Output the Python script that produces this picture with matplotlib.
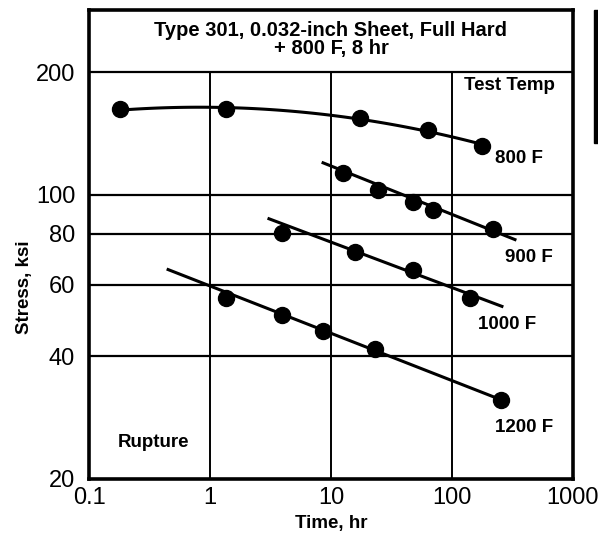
import numpy as np
import matplotlib
matplotlib.use("Agg")
import matplotlib.pyplot as plt
from matplotlib.patches import Rectangle

plt.rcParams['font.family'] = ['Liberation Sans', 'DejaVu Sans']

# rupture data, time (hr) vs stress (ksi)
t800 = [0.18, 1.36, 17.4, 63.5, 177]
s800 = [162, 162, 154, 144, 132]

t900 = [12.6, 24.4, 47.6, 69.7, 218]
s900 = [113, 102.8, 96.0, 91.8, 82.5]
fit900_t = [8.6, 332]
fit900_s = [119.7, 77.5]

t1000 = [3.94, 15.8, 47.6, 141]
s1000 = [80.6, 72.4, 65.4, 55.8]
fit1000_t = [3.07, 259]
fit1000_s = [87.2, 53.1]

t1200 = [1.36, 3.94, 8.59, 23.1, 254]
s1200 = [55.8, 50.7, 46.3, 41.7, 31.3]
fit1200_t = [0.45, 254]
fit1200_s = [65.4, 31.3]

xticks = [0.1, 1, 10, 100, 1000]
xlabels = ["0.1", "1", "10", "100", "1000"]
yticks = [20, 40, 60, 80, 100, 200]

fs_lab = 13.5

fig = plt.figure(figsize=(5.98, 5.38), dpi=100)
ax = fig.add_axes([0.149, 0.110, 0.809, 0.871])
ax.set_xscale('log')
ax.set_yscale('log')
ax.set_xlim(0.1, 1000)
ax.set_ylim(20, 284)

# grid stops at the title band (200 ksi line)
for xv in xticks[1:-1]:
    ax.plot([xv, xv], [20, 200], color='black', lw=1.4, zorder=1)
for yv in yticks[1:]:
    ax.plot([0.1, 1000], [yv, yv], color='black', lw=1.6, zorder=1)

# 800 F: smooth curve through points
lt = np.log10(t800)
c = np.polyfit(lt, np.log10(s800), 2)
xx = np.linspace(lt[0], lt[-1], 100)
ax.plot(10**xx, 10**np.polyval(c, xx), color='black', lw=2.2, zorder=2)
ax.plot(t800, s800, 'o', color='black', ms=11.5, zorder=3)

for ft, fs, t, s in [(fit900_t, fit900_s, t900, s900),
                     (fit1000_t, fit1000_s, t1000, s1000),
                     (fit1200_t, fit1200_s, t1200, s1200)]:
    ax.plot(ft, fs, color='black', lw=2.2, zorder=2)
    ax.plot(t, s, 'o', color='black', ms=11.5, zorder=3)

ax.set_xticks(xticks)
ax.set_xticklabels(xlabels)
ax.set_yticks(yticks)
ax.set_yticklabels([str(v) for v in yticks])
ax.minorticks_off()
ax.tick_params(axis='x', length=0, labelsize=17, pad=6)
ax.tick_params(axis='y', length=0, labelsize=17, pad=10)

for sp in ax.spines.values():
    sp.set_linewidth(2.6)

ax.set_xlabel("Time, hr", fontsize=fs_lab, fontweight='bold', labelpad=4)
ax.set_ylabel("Stress, ksi", fontsize=fs_lab, fontweight='bold')
ax.yaxis.set_label_coords(-0.115, 0.41)

ax.text(0.5, 0.976, "Type 301, 0.032-inch Sheet, Full Hard\n+ 800 F, 8 hr",
        transform=ax.transAxes, ha='center', va='top', fontsize=14.5,
        fontweight='bold', linespacing=0.88)

ax.text(301, 185.6, "Test Temp", ha='center', va='center', fontsize=fs_lab, fontweight='bold')
ax.text(226, 123, "800 F", ha='left', va='center', fontsize=fs_lab, fontweight='bold')
ax.text(274, 70.2, "900 F", ha='left', va='center', fontsize=fs_lab, fontweight='bold')
ax.text(164, 48.0, "1000 F", ha='left', va='center', fontsize=fs_lab, fontweight='bold')
ax.text(226, 26.7, "1200 F", ha='left', va='center', fontsize=fs_lab, fontweight='bold')
ax.text(0.174, 24.5, "Rupture", ha='left', va='center', fontsize=fs_lab, fontweight='bold')

# scan artefact bar at right edge
fig.patches.append(Rectangle((0.993, 0.734), 0.007, 0.248, transform=fig.transFigure,
                             color='black', zorder=5))

fig.savefig("out.png", dpi=100)
